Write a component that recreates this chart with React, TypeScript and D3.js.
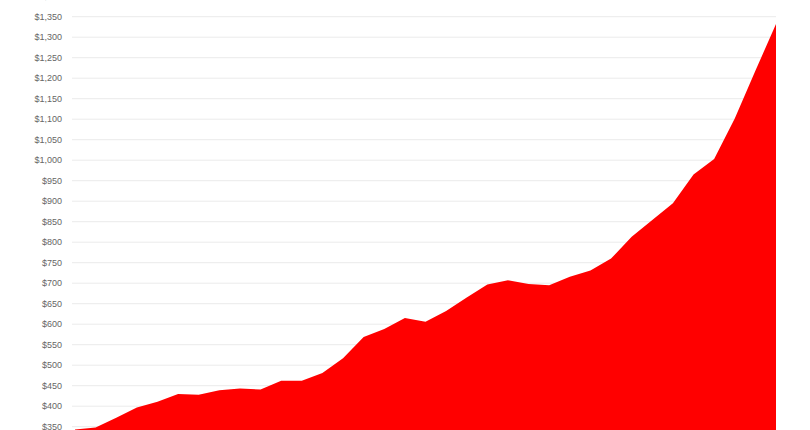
import React from "react";
import * as d3 from "d3";

const periods: string[] = Array.from({ length: 35 }, (_, i) => String(1985 + i));
const values: number[] = [
  343, 348, 372, 397, 411, 430, 428, 439, 443, 441, 462, 462, 481, 517, 569,
  588, 615, 606, 632, 665, 697, 707, 698, 695, 716, 731, 760, 813, 854, 895,
  965, 1003, 1102, 1218, 1332,
];
const tickValues: number[] = d3.range(300, 1401, 50);

const W = 810;
const H = 430;

export default function App() {
  const x = d3.scalePoint<string>().domain(periods).range([75, 776]);
  const y = d3.scaleLinear().domain([350, 1350]).range([426.7, 16.7]);
  const fmt = (v: number) => "$" + d3.format(",")(v);
  const data = periods.map((p, i) => ({ p, v: values[i] }));
  const area = d3
    .area<{ p: string; v: number }>()
    .x((d) => x(d.p) as number)
    .y0(y(250))
    .y1((d) => y(d.v));

  return (
    <div
      style={{
        position: "absolute",
        left: 0,
        top: 0,
        width: W,
        height: H,
        overflow: "hidden",
        background: "#fff",
      }}
    >
      <svg width={W} height={H + 60} style={{ display: "block" }}>
        <g>
          {tickValues.map((t) => (
            <g key={t}>
              <line
                x1={72}
                x2={776}
                y1={y(t)}
                y2={y(t)}
                stroke="#ebebeb"
                strokeWidth={1}
              />
              <text
                x={62}
                y={y(t)}
                dy="0.35em"
                textAnchor="end"
                fontFamily="Liberation Sans, Arial, sans-serif"
                fontSize={9}
                fill="#666"
              >
                {fmt(t)}
              </text>
            </g>
          ))}
        </g>
        <path d={area(data) || ""} fill="#ff0000" />
      </svg>
    </div>
  );
}
